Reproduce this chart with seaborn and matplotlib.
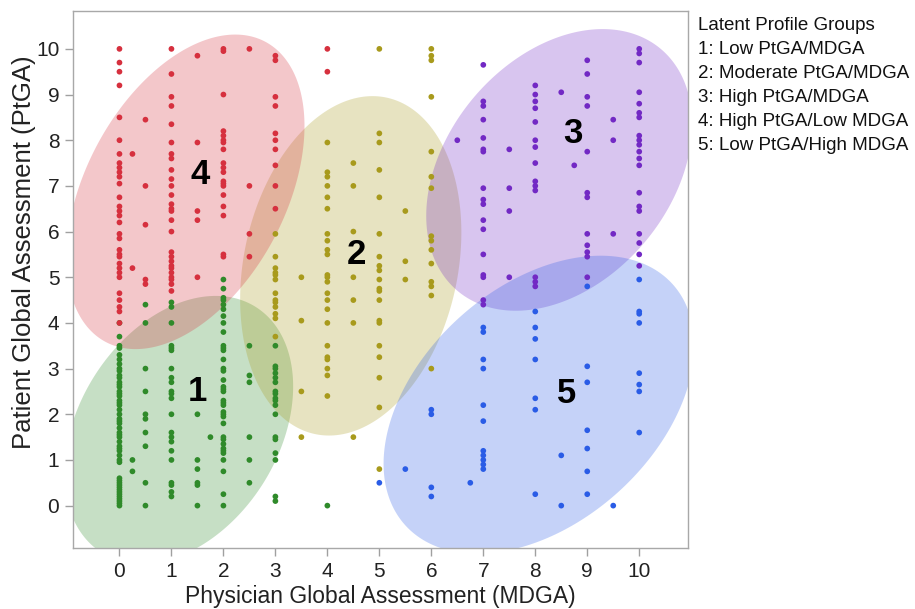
import numpy as np
import pandas as pd
import matplotlib
matplotlib.use("Agg")
import matplotlib.pyplot as plt
import seaborn as sns

# 数据: 每个潜在剖面组 -> [(MDGA, [PtGA ...]), ...]
grp1_cols = [  # Low PtGA/MDGA
    (0, [4.0, 3.7, 3.5, 3.45, 3.3, 3.2, 3.1, 3.0, 2.95, 2.85, 2.8, 2.7, 2.65, 2.6, 2.5,
         2.45, 2.4, 2.3, 2.25, 2.2, 2.1, 2.0, 1.9, 1.85, 1.8, 1.7, 1.6, 1.55, 1.5, 1.4,
         1.3, 1.25, 1.2, 1.1, 1.0, 0.95, 0.6, 0.55, 0.5, 0.45, 0.4, 0.35, 0.3, 0.25,
         0.2, 0.15, 0.1, 0.05, 0.0]),
    (0.25, [1.0, 0.75]),
    (0.5, [4.4, 4.0, 3.0, 2.5, 2.0, 1.9, 1.6, 1.3, 0.5, 0.0]),
    (1, [4.45, 4.35, 4.0, 3.5, 3.45, 3.4, 3.0, 2.8, 2.7, 2.5, 2.45, 2.35, 2.0, 1.6,
         1.5, 1.4, 1.2, 1.0, 0.5, 0.45, 0.3, 0.2]),
    (1.5, [2.0, 1.0, 0.8, 0.5, 0.45, 0.0]),
    (1.75, [1.5]),
    (2, [4.95, 4.75, 4.55, 4.5, 4.4, 4.3, 4.15, 4.0, 3.8, 3.5, 3.45, 3.4, 3.2, 3.0,
         2.95, 2.75, 2.6, 2.55, 2.5, 2.3, 2.25, 2.2, 2.05, 2.0, 1.95, 1.8, 1.5, 1.45,
         1.35, 1.25, 1.2, 1.15, 1.0, 0.75, 0.25, 0.0]),
    (2.5, [3.5, 2.85, 2.7, 1.5, 1.0, 0.5]),
    (3, [3.5, 3.05, 3.0, 2.9, 2.8, 2.7, 2.5, 2.45, 2.35, 2.3, 2.2, 2.0, 1.5, 1.45,
         1.15, 1.0, 0.2, 0.1]),
    (4, [0.0]),
]
grp2_cols = [  # Moderate PtGA/MDGA
    (3, [5.95, 5.45, 5.2, 5.1, 5.05, 4.95, 4.65, 4.5, 4.45, 4.35, 4.2, 4.1, 3.7]),
    (3.5, [5.0, 4.05, 2.5, 1.5]),
    (4, [7.95, 7.3, 7.2, 7.0, 6.75, 6.5, 5.95, 5.8, 5.6, 5.5, 5.05, 5.0, 4.9, 4.65,
         4.5, 4.3, 4.0, 3.5, 3.25, 3.2, 3.0, 2.85, 2.4]),
    (4.5, [7.5, 7.0, 6.0, 5.0, 4.5, 4.0, 1.5]),
    (5, [10.0, 8.15, 7.95, 7.35, 6.75, 5.95, 5.45, 5.25, 5.15, 4.95, 4.75, 4.7, 4.5,
         4.05, 4.0, 3.5, 3.25, 2.8, 2.15, 0.8]),
    (5.5, [6.45, 5.35, 4.95]),
    (6, [10.0, 9.85, 9.75, 8.95, 7.75, 7.2, 6.95, 5.9, 5.8, 5.6, 5.3, 4.9, 4.8, 4.6, 3.0]),
]
grp3_cols = [  # High PtGA/MDGA
    (6.5, [8.0]),
    (7, [9.65, 8.85, 8.75, 8.45, 8.05, 7.8, 7.75, 6.95, 6.7, 6.6, 6.25, 6.05, 5.5,
         5.05, 5.0, 4.5, 4.4]),
    (7.5, [7.8, 6.95, 6.45, 5.0]),
    (8, [9.2, 9.0, 8.85, 8.7, 8.4, 8.0, 7.85, 7.5, 7.1, 7.0, 6.9, 5.0, 4.9, 4.8]),
    (8.5, [9.05]),
    (8.75, [7.45]),
    (9, [9.75, 9.45, 8.95, 8.75, 7.75, 6.85, 6.75, 5.95, 5.7, 5.55, 5.45, 5.0]),
    (9.5, [8.45, 8.0, 5.95]),
    (10, [10.0, 9.9, 9.7, 9.05, 8.8, 8.6, 8.5, 8.1, 8.0, 7.9, 7.75, 7.6, 7.45, 6.85,
          6.55, 6.45, 5.95, 5.75, 5.5, 5.25]),
]
grp4_cols = [  # High PtGA/Low MDGA
    (0, [10.0, 9.7, 9.5, 9.2, 8.5, 8.0, 7.7, 7.5, 7.4, 7.3, 7.2, 7.05, 6.75, 6.55,
         6.45, 6.35, 6.2, 5.95, 5.85, 5.6, 5.5, 5.45, 5.3, 5.2, 5.1, 5.0, 4.65, 4.5,
         4.35, 4.25, 4.0]),
    (0.25, [7.7, 5.2]),
    (0.5, [8.45, 7.0, 6.15, 4.95, 4.85]),
    (1, [10.0, 9.45, 8.95, 8.75, 8.35, 7.95, 7.7, 7.6, 7.35, 7.15, 7.0, 6.8, 6.6, 6.5,
         6.45, 6.25, 6.0, 5.55, 5.45, 5.35, 5.25, 5.2, 5.1, 5.0, 4.95, 4.85, 4.7]),
    (1.5, [9.85, 7.95, 6.45, 6.25, 5.0]),
    (2, [10.0, 9.95, 9.0, 8.2, 8.1, 8.0, 7.95, 7.8, 7.5, 7.4, 7.3, 7.1, 7.05, 7.0,
         6.8, 6.55, 6.35, 5.5, 5.45]),
    (2.5, [10.0, 7.0, 5.95, 5.45]),
    (3, [9.85, 9.75, 8.95, 8.75, 8.15, 8.0, 7.8, 7.45, 7.0, 6.5]),
    (4, [10.0, 9.5]),
]
grp5_cols = [  # Low PtGA/High MDGA
    (5, [0.5]),
    (5.5, [0.8]),
    (6, [2.1, 2.0, 0.4, 0.2]),
    (6.75, [0.5]),
    (7, [3.9, 3.8, 3.2, 3.0, 2.2, 1.85, 1.2, 1.1, 1.0, 0.9, 0.8]),
    (8, [4.25, 3.9, 3.65, 3.2, 2.35, 2.1, 0.25]),
    (8.5, [1.1, 0.0]),
    (9, [4.8, 3.05, 2.7, 1.65, 1.25, 0.75, 0.25]),
    (9.5, [0.0]),
    (10, [4.95, 4.25, 4.2, 4.0, 2.9, 2.65, 2.5, 1.6]),
]

group_names = ["1: Low PtGA/MDGA", "2: Moderate PtGA/MDGA", "3: High PtGA/MDGA",
               "4: High PtGA/Low MDGA", "5: Low PtGA/High MDGA"]
group_colors = ["#2f8a2a", "#a89a1c", "#7229c4", "#d6303e", "#2a5ce6"]

# 置信椭圆: 中心(数据坐标), 半轴(像素), 倾角(度)
ellipse_center = [(1.14, 1.66), (4.45, 5.25), (8.46, 7.35), (1.27, 6.87), (8.07, 2.21)]
ellipse_axes = [(145, 100), (172, 107), (158, 112), (170, 100), (180, 118)]
ellipse_angle = [58, 78, 50, 62, 42]
label_pos = [(1.5, 2.5), (4.55, 5.5), (8.72, 8.15), (1.55, 7.25), (8.6, 2.45)]

rows = []
for g, cols in enumerate([grp1_cols, grp2_cols, grp3_cols, grp4_cols, grp5_cols]):
    for xv, ys in cols:
        for yv in ys:
            rows.append((xv, yv, group_names[g]))
df = pd.DataFrame(rows, columns=["MDGA", "PtGA", "group"])

sns.set_style("white")
plt.rcParams['font.family'] = ['Liberation Sans', 'DejaVu Sans']

fig = plt.figure(figsize=(9.15, 6.09), dpi=100)
ax = fig.add_axes([0.080, 0.100, 0.672, 0.882])
ax.set_xlim(-0.89, 10.94)
ax.set_ylim(-0.93, 10.83)


def ellipse_xy(ax, cx, cy, a, b, angle):
    """像素尺寸的椭圆 -> 数据坐标"""
    bbox = ax.get_window_extent()
    x0, x1 = ax.get_xlim()
    y0, y1 = ax.get_ylim()
    sx = bbox.width / (x1 - x0)
    sy = bbox.height / (y1 - y0)
    t = np.linspace(0, 2 * np.pi, 300)
    th = np.radians(angle)
    px = a * np.cos(t) * np.cos(th) - b * np.sin(t) * np.sin(th)
    py = a * np.cos(t) * np.sin(th) + b * np.sin(t) * np.cos(th)
    return cx + px / sx, cy + py / sy


for i in range(5):
    ex, ey = ellipse_xy(ax, *ellipse_center[i], *ellipse_axes[i], ellipse_angle[i])
    ax.fill(ex, ey, color=group_colors[i], alpha=0.27, lw=0, zorder=1)

sns.scatterplot(data=df, x="MDGA", y="PtGA", hue="group", hue_order=group_names,
                palette=group_colors, s=17, linewidth=0, legend=False, ax=ax, zorder=3)

for i, (lx, ly) in enumerate(label_pos):
    ax.text(lx, ly, str(i + 1), fontsize=25, fontweight='bold', ha='center',
            va='center', color='black', zorder=4)

ax.set_xticks(range(0, 11))
ax.set_yticks(range(0, 11))
ax.tick_params(axis='both', which='major', direction='out', length=6, width=1,
               color='#a0a0a0', labelsize=15, labelcolor='#222222', pad=4,
               bottom=True, left=True)
for sp in ax.spines.values():
    sp.set_color('#a8a8a8')
    sp.set_linewidth(1)
ax.set_xlabel("Physician Global Assessment (MDGA)", fontsize=16.5, color='#222222', labelpad=3)
ax.set_ylabel("Patient Global Assessment (PtGA)", fontsize=18.5, color='#222222')
ax.yaxis.set_label_coords(-0.060, 0.55)

# 图例文字
legend_lines = ["Latent Profile Groups"] + group_names
for k, txt in enumerate(legend_lines):
    fig.text(698 / 915, 1 - (25 + 24 * k) / 609, txt, fontsize=13.5, color='#111111',
             ha='left', va='center')

plt.savefig("out.png", dpi=100)
